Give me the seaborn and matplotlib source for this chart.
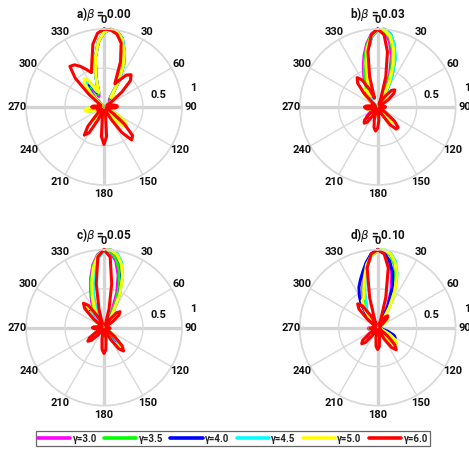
import numpy as np
import pandas as pd
import matplotlib
matplotlib.use("Agg")
import matplotlib.pyplot as plt
import seaborn as sns

# ---------------------------------------------------------------
# Normalised far-field patterns, sampled every 5 degrees (0..355)
# ---------------------------------------------------------------
angles_deg = [0, 5, 10, 15, 20, 25, 30, 35, 40, 45, 50, 55,
              60, 65, 70, 75, 80, 85, 90, 95, 100, 105, 110, 115,
              120, 125, 130, 135, 140, 145, 150, 155, 160, 165, 170, 175,
              180, 185, 190, 195, 200, 205, 210, 215, 220, 225, 230, 235,
              240, 245, 250, 255, 260, 265, 270, 275, 280, 285, 290, 295,
              300, 305, 310, 315, 320, 325, 330, 335, 340, 345, 350, 355]

gamma_labels = ["γ=3.0", "γ=3.5", "γ=4.0", "γ=4.5", "γ=5.0", "γ=6.0"]
gamma_colors = ["#ff00ff", "#00ff00", "#0000ff", "#00ffff", "#ffff00", "#ff0000"]
panel_titles = [r"a)$\beta$ = 0.00", r"b)$\beta$ = 0.03",
                r"c)$\beta$ = 0.05", r"d)$\beta$ = 0.10"]
theta_ticks = [0, 30, 60, 90, 120, 150, 180, 210, 240, 270, 300, 330]
r_ticks = [0.5, 1]

# beta = 0.00
r_a_30 = [.96, 1.0, .98, .90, .75, .56, .32, .12, .11, .12, .11, .07,
          .03, .03, .03, .03, .03, .03, .03, .03, .03, .03, .03, .04,
          .12, .18, .21, .18, .12, .04, .03, .03, .03, .03, .04, .07,
          .08, .07, .04, .03, .03, .06, .10, .11, .10, .06, .03, .03,
          .03, .04, .10, .16, .18, .16, .10, .04, .03, .03, .03, .03,
          .03, .03, .05, .15, .24, .27, .24, .15, .20, .40, .64, .84]
r_a_35 = [.96, 1.0, .98, .90, .75, .57, .33, .13, .13, .15, .13, .08,
          .03, .03, .03, .03, .03, .03, .03, .03, .03, .03, .03, .05,
          .14, .23, .26, .23, .14, .05, .03, .03, .03, .03, .06, .09,
          .10, .09, .06, .03, .03, .07, .11, .13, .11, .07, .03, .03,
          .03, .04, .11, .18, .20, .18, .11, .04, .03, .03, .03, .03,
          .03, .03, .07, .18, .29, .33, .29, .18, .20, .40, .64, .84]
r_a_40 = [.96, 1.0, .98, .91, .76, .60, .37, .15, .14, .16, .14, .09,
          .03, .03, .03, .03, .03, .03, .03, .03, .03, .03, .03, .06,
          .18, .28, .32, .28, .18, .06, .03, .03, .03, .03, .06, .09,
          .10, .09, .06, .03, .03, .08, .13, .15, .13, .08, .03, .03,
          .03, .04, .12, .19, .22, .19, .12, .04, .03, .03, .03, .03,
          .03, .03, .07, .20, .32, .36, .32, .20, .20, .40, .64, .84]
r_a_45 = [.96, 1.0, .98, .91, .77, .61, .38, .16, .15, .17, .15, .09,
          .03, .03, .03, .03, .03, .03, .03, .03, .03, .03, .03, .07,
          .19, .31, .35, .31, .19, .07, .03, .03, .03, .03, .07, .11,
          .12, .11, .07, .03, .03, .09, .15, .17, .15, .09, .03, .03,
          .03, .05, .13, .21, .24, .21, .13, .05, .03, .03, .03, .03,
          .03, .03, .08, .22, .35, .40, .35, .22, .20, .40, .64, .84]
r_a_50 = [.96, 1.0, .98, .90, .75, .58, .35, .15, .18, .20, .18, .11,
          .04, .03, .03, .03, .03, .03, .03, .03, .03, .03, .03, .08,
          .21, .33, .38, .33, .21, .08, .03, .03, .03, .03, .09, .14,
          .16, .14, .09, .04, .04, .12, .19, .22, .19, .12, .04, .03,
          .03, .05, .14, .22, .25, .22, .14, .05, .03, .03, .03, .03,
          .03, .03, .09, .24, .39, .44, .39, .24, .20, .40, .64, .84]
r_a_60 = [1.0, .99, .95, .85, .62, .33, .40, .50, .54, .48, .30, .12,
          .05, .04, .06, .10, .14, .17, .17, .14, .08, .04, .03, .04,
          .05, .15, .34, .52, .55, .40, .18, .05, .04, .05, .12, .38,
          .48, .38, .12, .04, .06, .18, .38, .44, .32, .12, .04, .04,
          .06, .09, .08, .05, .08, .14, .16, .14, .08, .04, .05, .06,
          .05, .08, .25, .52, .68, .66, .60, .53, .47, .60, .82, .95]

# beta = 0.03
r_b_30 = [1.0, .97, .86, .68, .45, .22, .08, .09, .10, .09, .06, .03,
          .03, .03, .03, .03, .03, .03, .03, .03, .03, .03, .03, .03,
          .04, .10, .16, .18, .16, .10, .04, .03, .03, .03, .04, .07,
          .08, .07, .04, .03, .03, .03, .04, .11, .18, .20, .18, .11,
          .04, .03, .03, .08, .12, .14, .12, .08, .03, .03, .03, .03,
          .03, .04, .11, .18, .20, .18, .28, .42, .54, .68, .82, .94]
r_b_35 = [1.0, .98, .90, .74, .52, .28, .12, .12, .14, .12, .08, .03,
          .03, .03, .03, .03, .03, .03, .03, .03, .03, .03, .03, .03,
          .05, .13, .21, .24, .21, .13, .05, .03, .03, .03, .04, .07,
          .08, .07, .04, .03, .03, .03, .08, .12, .14, .12, .08, .03,
          .03, .03, .07, .11, .12, .11, .07, .03, .03, .03, .03, .03,
          .03, .05, .15, .24, .27, .24, .30, .38, .50, .64, .80, .93]
r_b_40 = [.99, 1.0, .95, .82, .64, .42, .20, .11, .12, .11, .07, .03,
          .03, .03, .03, .03, .03, .03, .03, .03, .03, .03, .03, .03,
          .05, .14, .23, .26, .23, .14, .05, .03, .03, .03, .03, .05,
          .06, .05, .03, .03, .03, .03, .07, .11, .12, .11, .07, .03,
          .03, .03, .03, .06, .09, .10, .09, .06, .03, .03, .03, .03,
          .03, .05, .13, .21, .24, .21, .13, .20, .36, .55, .74, .90]
r_b_45 = [.99, 1.0, .95, .83, .66, .44, .22, .12, .14, .12, .08, .03,
          .03, .03, .03, .03, .03, .03, .03, .03, .03, .03, .03, .03,
          .05, .13, .21, .24, .21, .13, .05, .03, .03, .03, .03, .05,
          .06, .05, .03, .03, .03, .03, .07, .11, .12, .11, .07, .03,
          .03, .03, .03, .06, .09, .10, .09, .06, .03, .03, .03, .03,
          .03, .04, .12, .19, .22, .19, .12, .20, .36, .55, .74, .90]
r_b_50 = [1.0, .99, .92, .78, .58, .36, .16, .16, .18, .16, .10, .04,
          .03, .03, .03, .03, .03, .03, .03, .03, .03, .03, .03, .03,
          .06, .15, .25, .28, .25, .15, .06, .03, .03, .03, .07, .11,
          .12, .11, .07, .03, .03, .03, .08, .13, .15, .13, .08, .03,
          .03, .03, .08, .12, .14, .12, .08, .03, .03, .03, .03, .03,
          .03, .06, .17, .26, .30, .26, .17, .25, .40, .58, .77, .92]
r_b_60 = [1.0, .93, .72, .40, .12, .04, .08, .18, .28, .31, .27, .17,
          .06, .03, .03, .04, .07, .09, .10, .09, .06, .03, .03, .03,
          .03, .12, .28, .37, .37, .28, .12, .04, .03, .03, .06, .17,
          .27, .31, .27, .17, .06, .05, .14, .24, .27, .24, .14, .05,
          .03, .03, .04, .09, .14, .16, .17, .15, .09, .04, .03, .05,
          .07, .05, .10, .25, .40, .46, .40, .25, .12, .40, .72, .93]

# beta = 0.05
r_c_30 = [1.0, .97, .87, .70, .48, .25, .09, .09, .10, .09, .06, .03,
          .03, .03, .03, .03, .03, .03, .03, .03, .03, .03, .03, .03,
          .03, .04, .11, .18, .20, .18, .11, .04, .03, .03, .04, .07,
          .08, .07, .04, .03, .03, .03, .03, .04, .11, .18, .20, .18,
          .11, .04, .03, .07, .11, .12, .11, .07, .03, .03, .03, .03,
          .03, .04, .12, .19, .22, .19, .25, .38, .50, .66, .82, .94]
r_c_35 = [1.0, .98, .90, .76, .58, .36, .16, .12, .14, .12, .08, .03,
          .03, .03, .03, .03, .03, .03, .03, .03, .03, .03, .03, .03,
          .03, .06, .17, .26, .30, .26, .17, .06, .03, .03, .06, .09,
          .10, .09, .06, .03, .03, .03, .03, .03, .08, .12, .14, .12,
          .08, .03, .03, .07, .11, .12, .11, .07, .03, .03, .03, .03,
          .03, .07, .18, .29, .33, .29, .22, .34, .47, .63, .80, .93]
r_c_40 = [.99, 1.0, .95, .84, .68, .46, .24, .11, .12, .11, .07, .03,
          .03, .03, .03, .03, .03, .03, .03, .03, .03, .03, .03, .03,
          .03, .05, .14, .23, .26, .23, .14, .05, .03, .03, .04, .07,
          .08, .07, .04, .03, .03, .03, .03, .03, .07, .11, .12, .11,
          .07, .03, .03, .06, .09, .10, .09, .06, .03, .03, .03, .03,
          .03, .06, .15, .25, .28, .25, .15, .22, .38, .56, .74, .90]
r_c_45 = [.98, 1.0, .97, .87, .70, .48, .25, .12, .14, .12, .08, .03,
          .03, .03, .03, .03, .03, .03, .03, .03, .03, .03, .03, .03,
          .03, .06, .15, .25, .28, .25, .15, .06, .03, .03, .04, .07,
          .08, .07, .04, .03, .03, .03, .03, .03, .07, .11, .12, .11,
          .07, .03, .03, .06, .09, .10, .09, .06, .03, .03, .03, .03,
          .03, .05, .14, .23, .26, .23, .14, .20, .36, .54, .73, .89]
r_c_50 = [.99, 1.0, .95, .85, .70, .48, .24, .14, .16, .14, .09, .03,
          .03, .03, .03, .03, .03, .03, .03, .03, .03, .03, .03, .03,
          .03, .06, .18, .28, .32, .28, .18, .06, .03, .03, .07, .11,
          .12, .11, .07, .03, .03, .03, .03, .03, .08, .13, .15, .13,
          .08, .03, .03, .07, .11, .12, .11, .07, .03, .03, .03, .03,
          .03, .07, .19, .30, .34, .30, .20, .30, .44, .60, .78, .92]
r_c_60 = [1.0, .91, .57, .25, .07, .04, .05, .13, .25, .29, .25, .13,
          .03, .03, .03, .03, .03, .03, .07, .08, .07, .03, .03, .03,
          .03, .05, .18, .33, .39, .33, .18, .05, .03, .03, .15, .28,
          .33, .28, .15, .04, .03, .03, .03, .03, .12, .23, .27, .23,
          .12, .03, .03, .03, .07, .13, .15, .13, .07, .03, .03, .03,
          .03, .05, .18, .35, .41, .35, .18, .05, .07, .25, .57, .91]

# beta = 0.10
r_d_30 = [1.0, .96, .86, .70, .50, .28, .10, .06, .09, .10, .09, .06,
          .03, .03, .03, .03, .03, .03, .03, .03, .03, .03, .03, .04,
          .12, .19, .22, .19, .12, .04, .03, .03, .03, .03, .04, .07,
          .08, .07, .04, .03, .03, .03, .04, .10, .16, .18, .16, .10,
          .04, .03, .03, .07, .11, .12, .11, .07, .03, .03, .03, .03,
          .03, .05, .14, .22, .25, .25, .35, .45, .56, .69, .84, .95]
r_d_35 = [1.0, .99, .94, .83, .66, .44, .22, .08, .11, .12, .11, .07,
          .03, .03, .03, .03, .03, .03, .03, .03, .03, .03, .03, .06,
          .15, .25, .28, .25, .15, .06, .03, .03, .03, .03, .06, .09,
          .10, .09, .06, .03, .03, .03, .03, .08, .12, .14, .12, .08,
          .03, .03, .03, .05, .09, .10, .09, .05, .03, .03, .03, .03,
          .03, .03, .05, .10, .18, .26, .32, .40, .52, .66, .82, .93]
r_d_40 = [1.0, .96, .87, .74, .56, .32, .12, .07, .11, .12, .11, .07,
          .03, .03, .03, .03, .03, .03, .03, .03, .03, .05, .14, .23,
          .26, .23, .14, .05, .03, .03, .03, .03, .03, .03, .04, .07,
          .08, .07, .04, .03, .03, .03, .03, .07, .11, .12, .11, .07,
          .03, .03, .03, .04, .07, .08, .07, .04, .03, .03, .03, .03,
          .03, .03, .05, .10, .22, .37, .47, .57, .65, .74, .85, .95]
r_d_45 = [.99, 1.0, .97, .88, .73, .52, .30, .12, .13, .15, .13, .08,
          .03, .03, .03, .03, .03, .03, .03, .03, .03, .03, .03, .06,
          .17, .26, .30, .26, .17, .06, .03, .03, .03, .03, .07, .11,
          .12, .11, .07, .03, .03, .03, .03, .07, .11, .12, .11, .07,
          .03, .03, .03, .05, .09, .10, .09, .05, .03, .03, .03, .03,
          .03, .03, .05, .08, .14, .22, .28, .34, .48, .63, .80, .92]
r_d_50 = [.99, 1.0, .96, .86, .72, .52, .30, .12, .16, .18, .16, .10,
          .04, .03, .03, .03, .03, .03, .03, .03, .03, .03, .03, .06,
          .18, .28, .32, .28, .18, .06, .03, .03, .03, .04, .11, .18,
          .20, .18, .11, .04, .03, .03, .03, .07, .11, .12, .11, .07,
          .03, .03, .03, .05, .09, .10, .09, .05, .03, .03, .03, .03,
          .03, .03, .05, .08, .15, .30, .40, .42, .52, .66, .82, .93]
r_d_60 = [1.0, .95, .78, .40, .12, .04, .09, .17, .20, .17, .09, .03,
          .03, .03, .03, .03, .03, .03, .03, .03, .03, .03, .03, .03,
          .03, .05, .17, .31, .37, .31, .17, .04, .03, .03, .13, .24,
          .28, .24, .13, .03, .03, .03, .03, .13, .25, .29, .25, .13,
          .03, .03, .03, .05, .08, .10, .08, .05, .03, .03, .03, .03,
          .03, .05, .18, .34, .40, .34, .18, .05, .12, .40, .78, .95]

panel_series = [
    [r_a_30, r_a_35, r_a_40, r_a_45, r_a_50, r_a_60],
    [r_b_30, r_b_35, r_b_40, r_b_45, r_b_50, r_b_60],
    [r_c_30, r_c_35, r_c_40, r_c_45, r_c_50, r_c_60],
    [r_d_30, r_d_35, r_d_40, r_d_45, r_d_50, r_d_60],
]


def pattern_frame(series_list):
    """Long-form table of closed polar curves, one per gamma."""
    rows = []
    for label, values in zip(gamma_labels, series_list):
        assert len(values) == len(angles_deg)
        closed_angles = angles_deg + [360]
        closed_values = list(values) + [values[0]]
        for a, r in zip(closed_angles, closed_values):
            rows.append({"theta": np.deg2rad(a), "r": r, "gamma": label})
    return pd.DataFrame(rows)


sns.set_theme(style="white")
plt.rcParams["font.family"] = ["Roboto", "DejaVu Sans"]
plt.rcParams["mathtext.fontset"] = "dejavusans"

W, H = 469, 450
fig = plt.figure(figsize=(W / 100, H / 100), dpi=100)
fig.patch.set_facecolor("white")

centers = [(104, 107), (377.7, 107), (104, 327.7), (377.7, 327.7)]
R = 78
grid_col = "#d9d9d9"
label_kw = dict(fontsize=8, fontweight="bold", color="#111111",
                ha="center", va="center")

axes = []
for idx, (cx, cy) in enumerate(centers):
    rect = [(cx - R) / W, 1 - (cy + R) / H, 2 * R / W, 2 * R / H]
    ax = fig.add_axes(rect, projection="polar")
    ax.set_theta_zero_location("N")
    ax.set_theta_direction(-1)
    ax.set_facecolor("white")

    df = pattern_frame(panel_series[idx])
    sns.lineplot(data=df, x="theta", y="r", hue="gamma",
                 hue_order=gamma_labels, palette=gamma_colors,
                 sort=False, estimator=None, linewidth=2.2,
                 legend=False, ax=ax)
    for ln in ax.lines:
        ln.set_clip_on(False)
        ln.set_solid_joinstyle("round")

    ax.set_ylim(0, 1)
    ax.set_thetagrids(theta_ticks, labels=[""] * len(theta_ticks))
    ax.set_yticks(r_ticks)
    ax.set_yticklabels([])
    ax.set_xlabel("")
    ax.set_ylabel("")
    ax.grid(True, color=grid_col, linewidth=1.0)
    for k, gl in enumerate(ax.xaxis.get_gridlines()):
        if k % 3 == 0:
            gl.set_linewidth(2.4)
            gl.set_color("#d4d4d4")
    ax.spines["polar"].set_color(grid_col)
    ax.spines["polar"].set_linewidth(1.2)
    for gl in ax.xaxis.get_gridlines() + ax.yaxis.get_gridlines():
        gl.set_zorder(0.5)

    for t in theta_ticks:
        ax.text(np.deg2rad(t), 1.115, str(t), **label_kw)
    ax.text(np.deg2rad(77), 0.71, "0.5", **label_kw)
    ax.text(np.deg2rad(78), 1.17, "1", **label_kw)

    title_y = 14 if idx < 2 else 14 + 220.7
    fig.text(cx / W, 1 - title_y / H, panel_titles[idx], fontsize=8.5,
             fontweight="bold", color="#111111", ha="center", va="center")
    axes.append(ax)

handles = axes[0].lines[:len(gamma_labels)]
leg = fig.legend(handles, gamma_labels, loc="center", ncol=6,
                 bbox_to_anchor=(233 / W, 1 - 438.5 / H),
                 frameon=True, fancybox=False, fontsize=7,
                 handlelength=3.3, handletextpad=0.25, columnspacing=0.75,
                 borderpad=0.25, borderaxespad=0.0)
leg.get_frame().set_edgecolor("#404040")
leg.get_frame().set_linewidth(0.9)
for t in leg.get_texts():
    t.set_fontweight("bold")
for lh in leg.get_lines():
    lh.set_linewidth(2.6)

fig.savefig("out.png", dpi=100, facecolor="white")
